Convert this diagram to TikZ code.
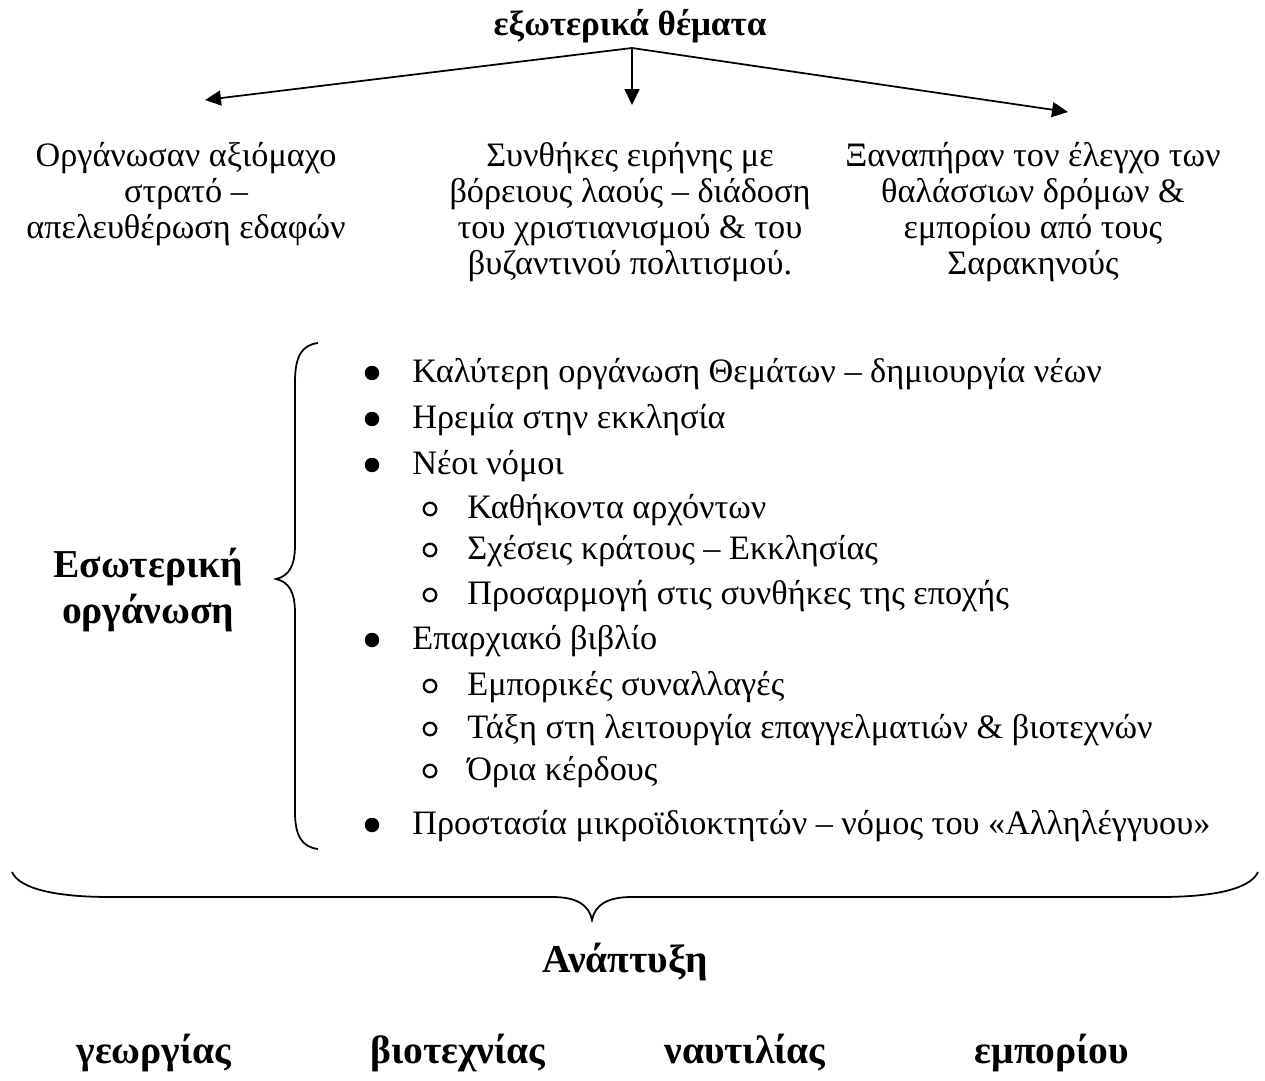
\documentclass[tikz,border=0pt]{standalone}
\usepackage{fontspec}
\setmainfont{Liberation Serif}
\usetikzlibrary{positioning,arrows.meta}

\begin{document}
\begin{tikzpicture}[x=0.02cm, y=-0.02cm,
txt/.style={align=center, font=\fontsize{19.5}{20.5}\selectfont, inner sep=0pt},
item/.style={anchor=base west, font=\fontsize{19.5}{20.5}\selectfont, inner sep=0pt},
head/.style={font=\bfseries\fontsize{20}{22}\selectfont, inner sep=0pt},
big/.style={align=center, font=\bfseries\fontsize{22.5}{26.5}\selectfont, inner sep=0pt},
dot/.style={circle, fill=black, inner sep=0pt, minimum size=0.29cm},
ring/.style={circle, draw=black, line width=1.3pt, inner sep=0pt, minimum size=0.25cm},
arr/.style={-{Triangle[length=0.32cm, width=0.3cm]}, line width=1pt},
curly/.style={line width=1pt}
]
\useasboundingbox (0,0) rectangle (1265,1081);
%Nodes
\node[head, anchor=base]  (ext)  at (630,36)   {εξωτερικά θέματα};
\coordinate (j)  at (632,48);
\coordinate (tl) at (205,100);
\coordinate (tm) at (632,105);
\coordinate (tr) at (1068,112);
\node[txt, anchor=north]  (army) at (186,142)  {Οργάνωσαν αξιόμαχο\\στρατό –\\απελευθέρωση εδαφών};
\node[txt, anchor=north]  (peace) at (630,142) {Συνθήκες ειρήνης με\\βόρειους λαούς – διάδοση\\του χριστιανισμού \& του\\βυζαντινού πολιτισμού.};
\node[txt, anchor=north]  (sea)  at (1033,142) {Ξαναπήραν τον έλεγχο των\\θαλάσσιων δρόμων \&\\εμπορίου από τους\\Σαρακηνούς};
\node[big]                (inner) at (148,590) {Εσωτερική\\οργάνωση};
%List
\node[dot]  (d1) at (372,373) {};
\node[item] (b1) at (412,382) {Καλύτερη οργάνωση Θεμάτων – δημιουργία νέων};
\node[dot]  (d2) at (372,419) {};
\node[item] (b2) at (412,428) {Ηρεμία στην εκκλησία};
\node[dot]  (d3) at (372,465) {};
\node[item] (b3) at (412,474) {Νέοι νόμοι};
\node[ring] (r1) at (430,509) {};
\node[item] (s1) at (467,518) {Καθήκοντα αρχόντων};
\node[ring] (r2) at (430,550) {};
\node[item] (s2) at (467,559) {Σχέσεις κράτους – Εκκλησίας};
\node[ring] (r3) at (430,595) {};
\node[item] (s3) at (467,604) {Προσαρμογή στις συνθήκες της εποχής};
\node[dot]  (d4) at (372,640) {};
\node[item] (b4) at (412,649) {Επαρχιακό βιβλίο};
\node[ring] (r4) at (430,686) {};
\node[item] (s4) at (467,695) {Εμπορικές συναλλαγές};
\node[ring] (r5) at (430,729) {};
\node[item] (s5) at (467,738) {Τάξη στη λειτουργία επαγγελματιών \& βιοτεχνών};
\node[ring] (r6) at (430,771) {};
\node[item] (s6) at (467,780) {Όρια κέρδους};
\node[dot]  (d5) at (372,825) {};
\node[item] (b5) at (412,834) {Προστασία μικροϊδιοκτητών – νόμος του «Αλληλέγγυου»};
%Bottom
\node[big, anchor=base] (grow) at (625,972)  {Ανάπτυξη};
\node[big, anchor=base] (agr)  at (154,1063) {γεωργίας};
\node[big, anchor=base] (craft) at (458,1063) {βιοτεχνίας};
\node[big, anchor=base] (ship) at (745,1063) {ναυτιλίας};
\node[big, anchor=base] (trade) at (1052,1063) {εμπορίου};
%Lines
\draw[arr] (j) -- (tl);
\draw[arr] (j) -- (tm);
\draw[arr] (j) -- (tr);
%Braces
\draw[curly] (318,343) .. controls (302,345) and (295,356) .. (295,382) -- (295,545)
  .. controls (295,566) and (289,576) .. (276,579) .. controls (289,582) and (295,592) .. (295,613)
  -- (295,812) .. controls (295,836) and (302,847) .. (318,849);
\draw[curly] (12,872) .. controls (20,890) and (60,897) .. (110,897) -- (552,897)
  .. controls (577,897) and (589,905) .. (592,920) .. controls (595,905) and (607,897) .. (632,897)
  -- (1160,897) .. controls (1210,897) and (1250,890) .. (1258,872);
\end{tikzpicture}
\end{document}
